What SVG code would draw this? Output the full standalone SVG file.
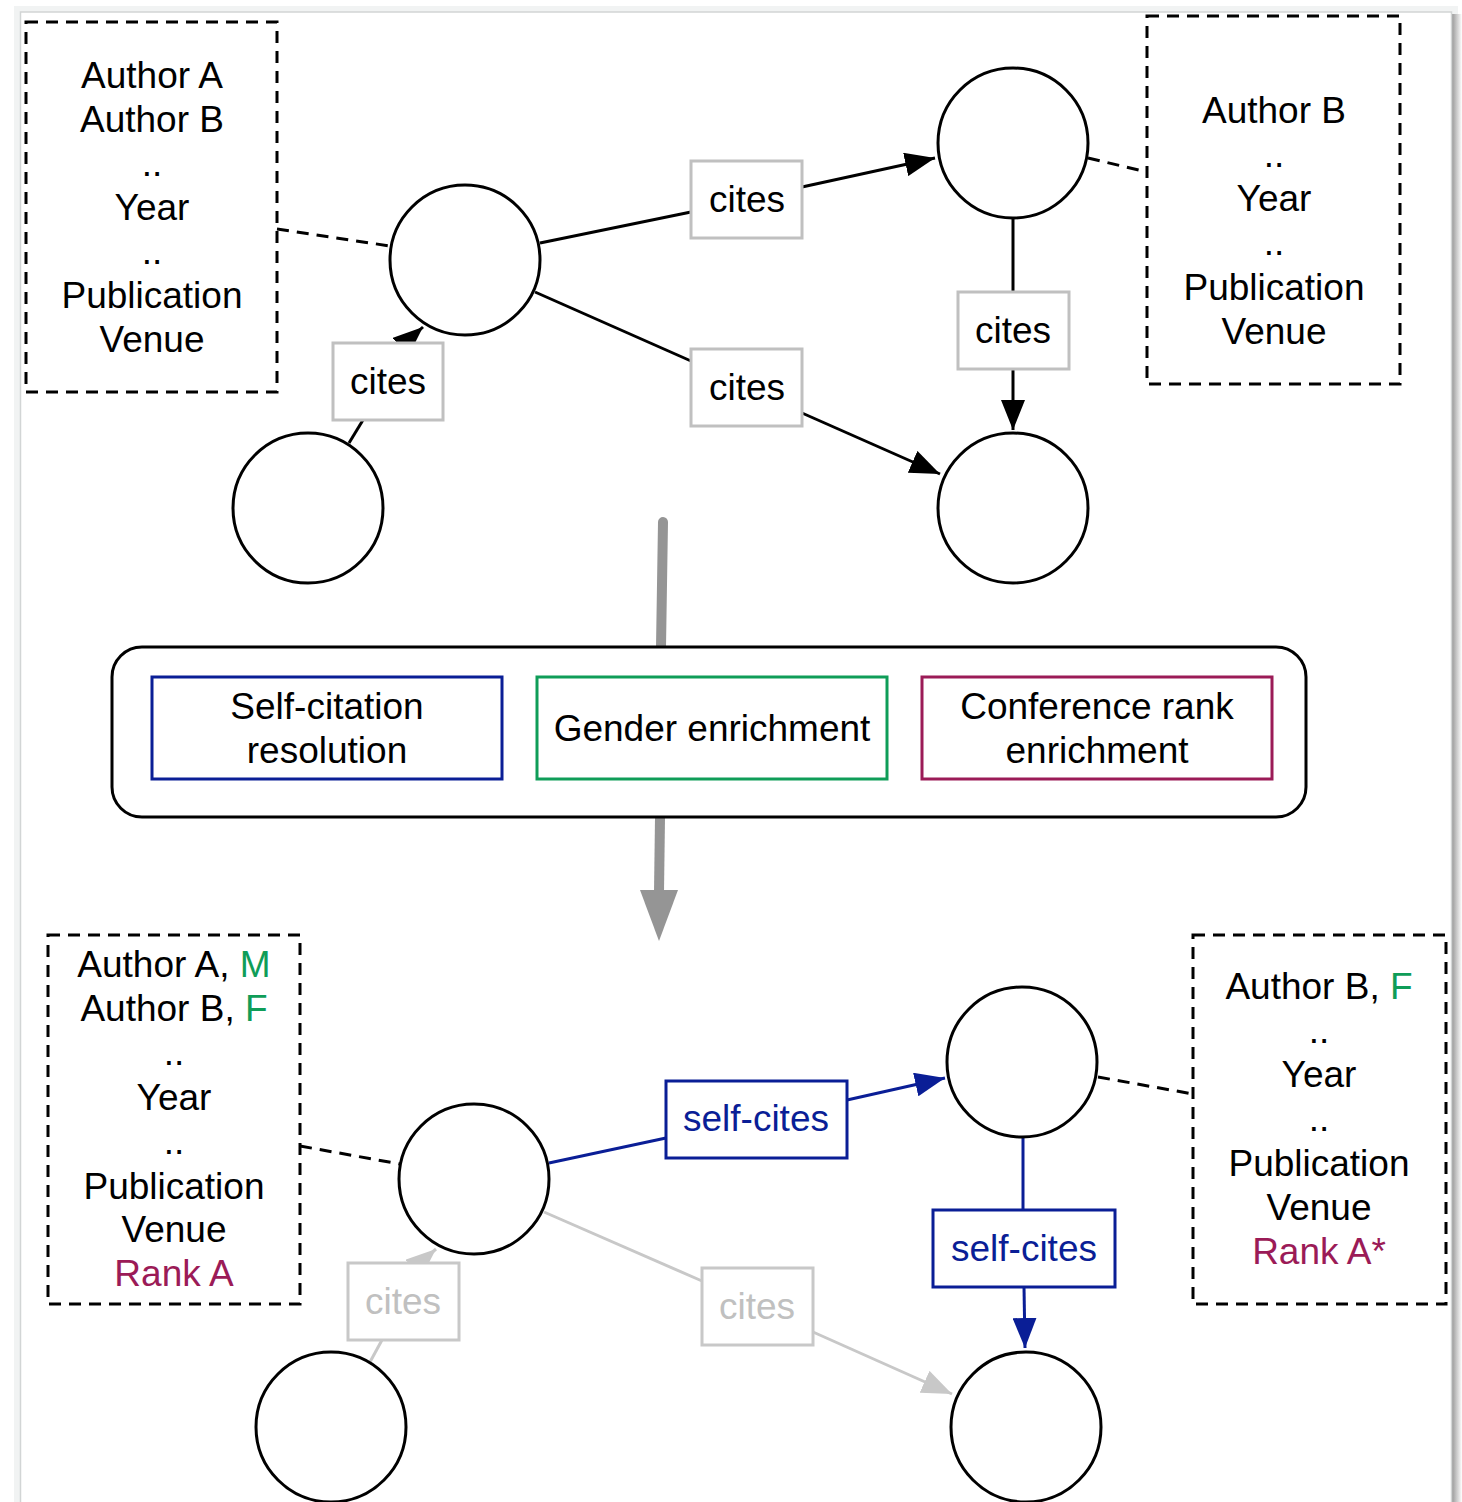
<svg xmlns="http://www.w3.org/2000/svg" width="1462" height="1502" viewBox="0 0 1462 1502">
  <style>
    text { font-family: "Liberation Sans", Arial, sans-serif; font-size: 37px; text-anchor: middle; fill: #000; }
    .doc { fill: none; stroke: #000; stroke-width: 3; stroke-dasharray: 12 8; }
    .node { fill: #fff; stroke: #000; stroke-width: 3; }
    .link { fill: none; stroke: #000; stroke-width: 3; stroke-dasharray: 12 8; }
    .edge { fill: none; stroke: #000; stroke-width: 3; }
    .edge-self { fill: none; stroke: #0a1e96; stroke-width: 3; }
    .edge-dim { fill: none; stroke: #c8c8c8; stroke-width: 3; }
    .lbl { fill: #fff; stroke: #c0c0c0; stroke-width: 3; }
    .lbl-self { fill: #fff; stroke: #0a1e96; stroke-width: 3; }
    .lbl-dim { fill: #fff; stroke: #c8c8c8; stroke-width: 3; }
    .t-self { fill: #0a1e96; }
    .t-dim { fill: #c0c0c0; }
    .t-gender { fill: #0f9d58; }
    .t-rank { fill: #9b1b57; }
  </style>
  <defs>
    <marker id="arrow" viewBox="0 0 30 24" refX="30" refY="12" markerWidth="30" markerHeight="24" markerUnits="userSpaceOnUse" orient="auto">
      <path d="M0,0 L30,12 L0,24 z" fill="#000"/>
    </marker>
    <marker id="arrow-self" viewBox="0 0 30 24" refX="30" refY="12" markerWidth="30" markerHeight="24" markerUnits="userSpaceOnUse" orient="auto">
      <path d="M0,0 L30,12 L0,24 z" fill="#0a1e96"/>
    </marker>
    <marker id="arrow-dim" viewBox="0 0 30 24" refX="30" refY="12" markerWidth="30" markerHeight="24" markerUnits="userSpaceOnUse" orient="auto">
      <path d="M0,0 L30,12 L0,24 z" fill="#c8c8c8"/>
    </marker>
    <linearGradient id="shade-r" x1="0" y1="0" x2="1" y2="0">
      <stop offset="0" stop-color="#9a9a9a"/>
      <stop offset="1" stop-color="#ffffff"/>
    </linearGradient>
  </defs>

  <!-- page sheet -->
  <rect x="0" y="0" width="1462" height="1502" fill="#fff"/>
  <rect x="14" y="6" width="1444" height="1500" fill="#f1f3f3"/>
  <rect x="1452" y="14" width="10" height="1488" fill="url(#shade-r)"/>
  <rect x="20.5" y="12" width="1431" height="1496" fill="#fff" stroke="#d2d5d5" stroke-width="1.5"/>

  <!-- connectors -->
  <g id="connectors">
    <!-- metadata links (top) -->
    <line class="link" x1="277" y1="229" x2="390" y2="246"/>
    <line class="link" x1="1088" y1="158" x2="1147" y2="172"/>
    <!-- citations (top) -->
    <polyline class="edge" points="540,243 691,212"/>
    <line class="edge" x1="802" y1="187" x2="935" y2="158" marker-end="url(#arrow)"/>
    <polyline class="edge" points="535,292 691,361"/>
    <line class="edge" x1="802" y1="413" x2="940" y2="474" marker-end="url(#arrow)"/>
    <line class="edge" x1="1013" y1="218" x2="1013" y2="292"/>
    <line class="edge" x1="1013" y1="369" x2="1013" y2="430" marker-end="url(#arrow)"/>
    <line class="edge" x1="349" y1="443" x2="363" y2="420"/>
    <line class="edge" x1="405" y1="343" x2="423" y2="327" marker-end="url(#arrow)"/>

    <!-- processing flow -->
    <line x1="663" y1="522" x2="661" y2="647" stroke="#959595" stroke-width="10" stroke-linecap="round"/>
    <line x1="660" y1="818" x2="659" y2="892" stroke="#959595" stroke-width="10"/>
    <path d="M640,890 L678,890 L659,941 z" fill="#959595"/>

    <!-- metadata links (bottom) -->
    <line class="link" x1="300" y1="1146" x2="400" y2="1164"/>
    <line class="link" x1="1098" y1="1077" x2="1193" y2="1094"/>
    <!-- self citations -->
    <line class="edge-self" x1="549" y1="1163" x2="666" y2="1138"/>
    <line class="edge-self" x1="847" y1="1100" x2="945" y2="1078" marker-end="url(#arrow-self)"/>
    <line class="edge-self" x1="1023" y1="1137" x2="1023" y2="1210"/>
    <line class="edge-self" x1="1024" y1="1287" x2="1025" y2="1348" marker-end="url(#arrow-self)"/>
    <!-- remaining citations -->
    <line class="edge-dim" x1="544" y1="1212" x2="702" y2="1281"/>
    <line class="edge-dim" x1="813" y1="1332" x2="952" y2="1394" marker-end="url(#arrow-dim)"/>
    <line class="edge-dim" x1="370" y1="1362" x2="382" y2="1340"/>
    <line class="edge-dim" x1="420" y1="1263" x2="436" y2="1249" marker-end="url(#arrow-dim)"/>
  </g>

  <!-- top graph -->
  <g id="meta-top-left">
    <rect class="doc" x="26" y="22" width="251" height="370"/>
    <text x="152" y="88">Author A</text>
    <text x="152" y="132">Author B</text>
    <text x="152" y="176">..</text>
    <text x="152" y="220">Year</text>
    <text x="152" y="264">..</text>
    <text x="152" y="308">Publication</text>
    <text x="152" y="352">Venue</text>
  </g>
  <g id="meta-top-right">
    <rect class="doc" x="1147" y="16" width="253" height="368"/>
    <text x="1274" y="123">Author B</text>
    <text x="1274" y="167">..</text>
    <text x="1274" y="211">Year</text>
    <text x="1274" y="255">..</text>
    <text x="1274" y="300">Publication</text>
    <text x="1274" y="344">Venue</text>
  </g>
  <g id="paper-top-a"><circle class="node" cx="465" cy="260" r="75"/></g>
  <g id="paper-top-b"><circle class="node" cx="1013" cy="143" r="75"/></g>
  <g id="paper-top-c"><circle class="node" cx="1013" cy="508" r="75"/></g>
  <g id="paper-top-d"><circle class="node" cx="308" cy="508" r="75"/></g>
  <g id="label-top-1"><rect class="lbl" x="691" y="161" width="111" height="77"/><text x="747" y="212">cites</text></g>
  <g id="label-top-2"><rect class="lbl" x="691" y="349" width="111" height="77"/><text x="747" y="400">cites</text></g>
  <g id="label-top-3"><rect class="lbl" x="958" y="292" width="111" height="77"/><text x="1013" y="343">cites</text></g>
  <g id="label-top-4"><rect class="lbl" x="333" y="343" width="110" height="77"/><text x="388" y="394">cites</text></g>

  <!-- processing steps -->
  <g id="pipeline">
    <rect x="112" y="647" width="1194" height="170" rx="30" ry="30" fill="#fff" stroke="#000" stroke-width="3"/>
  </g>
  <g id="step-self-citation">
    <rect x="152" y="677" width="350" height="102" fill="#fff" stroke="#0a1e96" stroke-width="3"/>
    <text x="327" y="719">Self-citation</text>
    <text x="327" y="763">resolution</text>
  </g>
  <g id="step-gender">
    <rect x="537" y="677" width="350" height="102" fill="#fff" stroke="#0f9d58" stroke-width="3"/>
    <text x="712" y="741">Gender enrichment</text>
  </g>
  <g id="step-rank">
    <rect x="922" y="677" width="350" height="102" fill="#fff" stroke="#9b1b57" stroke-width="3"/>
    <text x="1097" y="719">Conference rank</text>
    <text x="1097" y="763">enrichment</text>
  </g>

  <!-- bottom graph -->
  <g id="meta-bottom-left">
    <rect class="doc" x="48" y="935" width="252" height="369"/>
    <text x="174" y="977">Author A, <tspan class="t-gender">M</tspan></text>
    <text x="174" y="1021">Author B, <tspan class="t-gender">F</tspan></text>
    <text x="174" y="1065">..</text>
    <text x="174" y="1110">Year</text>
    <text x="174" y="1154">..</text>
    <text x="174" y="1199">Publication</text>
    <text x="174" y="1242">Venue</text>
    <text x="174" y="1286" class="t-rank">Rank A</text>
  </g>
  <g id="meta-bottom-right">
    <rect class="doc" x="1193" y="935" width="253" height="369"/>
    <text x="1319" y="999">Author B, <tspan class="t-gender">F</tspan></text>
    <text x="1319" y="1043">..</text>
    <text x="1319" y="1087">Year</text>
    <text x="1319" y="1131">..</text>
    <text x="1319" y="1176">Publication</text>
    <text x="1319" y="1220">Venue</text>
    <text x="1319" y="1264" class="t-rank">Rank A*</text>
  </g>
  <g id="paper-bottom-a"><circle class="node" cx="474" cy="1179" r="75"/></g>
  <g id="paper-bottom-b"><circle class="node" cx="1022" cy="1062" r="75"/></g>
  <g id="paper-bottom-c"><circle class="node" cx="1026" cy="1427" r="75"/></g>
  <g id="paper-bottom-d"><circle class="node" cx="331" cy="1427" r="75"/></g>
  <g id="label-bottom-1"><rect class="lbl-self" x="666" y="1081" width="181" height="77"/><text x="756" y="1131" class="t-self">self-cites</text></g>
  <g id="label-bottom-2"><rect class="lbl-self" x="933" y="1210" width="182" height="77"/><text x="1024" y="1261" class="t-self">self-cites</text></g>
  <g id="label-bottom-3"><rect class="lbl-dim" x="702" y="1268" width="111" height="77"/><text x="757" y="1319" class="t-dim">cites</text></g>
  <g id="label-bottom-4"><rect class="lbl-dim" x="348" y="1263" width="111" height="77"/><text x="403" y="1314" class="t-dim">cites</text></g>
</svg>
